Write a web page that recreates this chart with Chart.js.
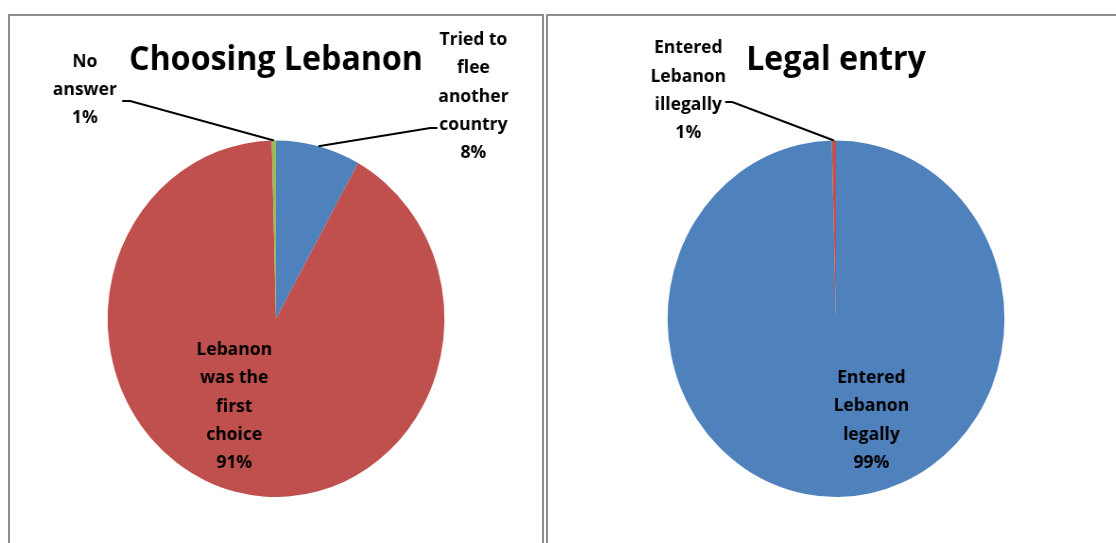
<!DOCTYPE html>
<html>
<head>
<meta charset="utf-8">
<script src="https://cdn.jsdelivr.net/npm/chart.js@4.4.1/dist/chart.umd.min.js"></script>
<style>
  html, body { margin: 0; padding: 0; background: #fff; }
  body { width: 1116px; height: 543px; position: relative; overflow: hidden; }
  .panel { position: absolute; top: 14px; border: 2px solid #8f8f8f; border-bottom: none; box-sizing: border-box; }
  #panelL { left: 8px; width: 536px; height: 560px; }
  #panelR { left: 546px; width: 600px; height: 560px; }
  .wrap { position: absolute; top: 0; width: 600px; height: 543px; transform: scaleX(0.945); transform-origin: 50% 50%; }
  #wrapL { left: -24.3px; }
  #wrapR { left: 535.7px; }
</style>
</head>
<body>
<div class="panel" id="panelL"></div>
<div class="panel" id="panelR"></div>
<div class="wrap" id="wrapL"><canvas id="chartL"></canvas></div>
<div class="wrap" id="wrapR"><canvas id="chartR"></canvas></div>
<script>
// ---- Data ----
const leftTitle = 'Choosing Lebanon';
const leftCategories = ['Tried to\nflee\nanother\ncountry', 'Lebanon\nwas the\nfirst\nchoice', 'No\nanswer'];
const leftValues = [8.1, 91.5, 0.4];
const leftPercentLabels = ['8%', '91%', '1%'];
const leftColors = ['#4F81BD', '#C0504D', '#9BBB59'];

const rightTitle = 'Legal entry';
const rightCategories = ['Entered\nLebanon\nlegally', 'Entered\nLebanon\nillegally'];
const rightValues = [99.6, 0.4];
const rightPercentLabels = ['99%', '1%'];
const rightColors = ['#4F81BD', '#C0504D'];

const FONT = '"Open Sans", "DejaVu Sans", sans-serif';

// Label plugin: draws data labels (and leader lines) relative to each arc's geometry
const sliceLabels = {
  id: 'sliceLabels',
  afterDatasetsDraw(chart, args, opts) {
    const ctx = chart.ctx;
    const meta = chart.getDatasetMeta(0);
    const labels = chart.data.labels;
    meta.data.forEach((arc, i) => {
      const p = opts.placements[i];
      if (!p) return;
      const g = arc.getProps(['x', 'y', 'startAngle', 'endAngle', 'outerRadius'], true);
      const r = g.outerRadius;
      const lines = labels[i].split('\n').concat(opts.percents[i]);
      ctx.save();
      ctx.fillStyle = '#000';
      ctx.font = opts.font;
      ctx.textAlign = 'center';
      ctx.textBaseline = 'alphabetic';
      const tx = g.x + p.tx * r;
      const ty = g.y + p.ty * r;
      lines.forEach((ln, k) => ctx.fillText(ln, tx, ty + k * opts.lineSpacing * r));
      if (p.elbow) {
        const mid = (g.startAngle + g.endAngle) / 2;
        const sx = g.x + Math.cos(mid) * r;
        const sy = g.y + Math.sin(mid) * r;
        ctx.strokeStyle = '#000';
        ctx.lineWidth = 2;
        ctx.beginPath();
        ctx.moveTo(sx, sy);
        ctx.lineTo(g.x + p.elbow[0] * r, g.y + p.elbow[1] * r);
        ctx.lineTo(g.x + p.stub * r, g.y + p.elbow[1] * r);
        ctx.stroke();
      }
      ctx.restore();
    });
  }
};

function makePie(id, title, cats, vals, colors, pcts, placements) {
  return new Chart(document.getElementById(id), {
    type: 'pie',
    data: {
      labels: cats,
      datasets: [{ data: vals, backgroundColor: colors, borderWidth: 0, hoverOffset: 0, offset: 0 }]
    },
    options: {
      responsive: true,
      maintainAspectRatio: false,
      animation: false,
      events: [],
      layout: { padding: { left: 100, right: 100, top: 0, bottom: 46 } },
      plugins: {
        legend: { display: false },
        tooltip: { enabled: false },
        title: {
          display: true,
          text: title,
          color: '#000',
          font: { family: FONT, size: 34, weight: 'bold', lineHeight: 1.2 },
          padding: { top: 39.5, bottom: 60.2 }
        },
        sliceLabels: {
          font: 'bold 18.5px ' + FONT,
          lineSpacing: 0.159,
          percents: pcts,
          placements: placements
        }
      }
    },
    plugins: [sliceLabels]
  });
}

makePie('chartL', leftTitle, leftCategories, leftValues, leftColors, leftPercentLabels, [
  { tx: 1.172, ty: -1.536, elbow: [0.916, -1.070], stub: 0.958 },
  { tx: -0.248, ty: 0.203 },
  { tx: -1.135, ty: -1.414, elbow: [-0.866, -1.222], stub: -0.913 }
]);

makePie('chartR', rightTitle, rightCategories, rightValues, rightColors, rightPercentLabels, [
  { tx: 0.21, ty: 0.360 },
  { tx: -0.877, ty: -1.489, elbow: [-0.616, -1.216], stub: -0.658 }
]);
</script>
</body>
</html>
